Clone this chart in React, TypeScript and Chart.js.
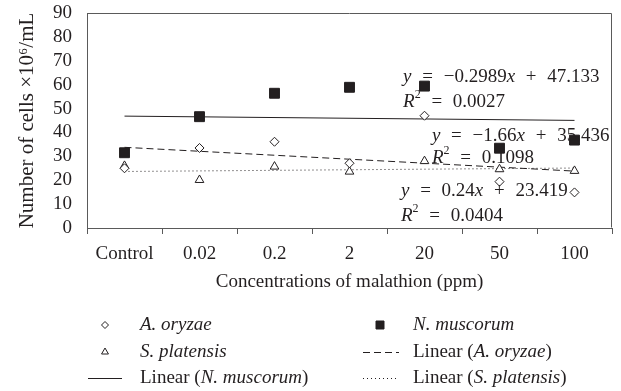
import React, { useEffect, useRef } from 'react';
import { Chart, registerables } from 'chart.js';

Chart.register(...registerables);

// ---- data ----
const categories = ['Control', '0.02', '0.2', '2', '20', '50', '100'];
const aOryzae = [25.0, 33.5, 36.1, 27.1, 47.0, 19.4, 14.9];
const nMuscorum = [31.5, 46.6, 56.4, 58.9, 59.4, 33.4, 36.8];
const sPlatensis = [26.0, 20.1, 25.7, 23.6, 28.0, 24.6, 23.9];
const yTicks = [0, 10, 20, 30, 40, 50, 60, 70, 80, 90];

// linear trend lines as printed on the chart (order: A. oryzae, N. muscorum, S. platensis)
const trendSlopes = [-1.66, -0.2989, 0.24];
const trendIntercepts = [35.436, 47.133, 23.419];
const trendR2 = [0.1098, 0.0027, 0.0404];

const FONT_FAMILY = '"Liberation Serif", "Times New Roman", serif';
const TEXT = '#231f20';
const AXIS = '#5a5a5a';
const MARK = '#231f20';

function trendData(k: number) {
  const n = categories.length;
  return categories.map((_, i) =>
    i === 0 || i === n - 1 ? trendSlopes[k] * (i + 1) + trendIntercepts[k] : null
  );
}

type Seg = { t: string; it?: boolean; sup?: boolean };

function drawRich(ctx: CanvasRenderingContext2D, x: number, y: number, segs: Seg[], wordSpacing = 0) {
  let cx = x;
  ctx.save();
  ctx.textBaseline = 'middle';
  ctx.textAlign = 'left';
  ctx.fillStyle = TEXT;
  for (const s of segs) {
    const size = s.sup ? 12 : 19;
    ctx.font = `${s.it ? 'italic ' : ''}${size}px ${FONT_FAMILY}`;
    // draw word by word so extra spacing works everywhere
    const parts = s.t.split(' ');
    parts.forEach((p, idx) => {
      if (p) {
        ctx.fillText(p, cx, s.sup ? y - 7 : y);
        cx += ctx.measureText(p).width;
      }
      if (idx < parts.length - 1) cx += ctx.measureText(' ').width + wordSpacing;
    });
  }
  ctx.restore();
}

function eqSegs(k: number): Seg[] {
  const m = trendSlopes[k];
  const sign = m < 0 ? '\u2212' : '';
  return [
    { t: 'y', it: true },
    { t: ` = ${sign}${String(Math.abs(m))}` },
    { t: 'x', it: true },
    { t: ` + ${String(trendIntercepts[k])}` },
  ];
}
function r2Segs(k: number): Seg[] {
  return [
    { t: 'R', it: true },
    { t: '2', sup: true },
    { t: ` = ${String(trendR2[k])}` },
  ];
}

// annotation placement: x as fraction of plot width, y in data units (line centres)
const annoPlacement = [
  { k: 1, fx: 0.602, yEq: 63.2, yR: 52.7 },
  { k: 0, fx: 0.657, yEq: 38.5, yR: 29.3 },
  { k: 2, fx: 0.598, yEq: 15.5, yR: 5.0 },
];

function drawMarker(ctx: CanvasRenderingContext2D, kind: string, x: number, y: number, r: number) {
  ctx.save();
  ctx.lineWidth = 1;
  ctx.strokeStyle = MARK;
  ctx.fillStyle = kind === 'square' ? MARK : '#ffffff';
  ctx.beginPath();
  if (kind === 'diamond') {
    ctx.moveTo(x - r, y); ctx.lineTo(x, y - r); ctx.lineTo(x + r, y); ctx.lineTo(x, y + r); ctx.closePath();
  } else if (kind === 'triangle') {
    const h = r * 1.5;
    ctx.moveTo(x, y - r); ctx.lineTo(x + r * 0.866, y + h - r); ctx.lineTo(x - r * 0.866, y + h - r); ctx.closePath();
  } else {
    ctx.rect(x - r, y - r, 2 * r, 2 * r);
  }
  ctx.fill();
  ctx.stroke();
  ctx.restore();
}

function drawSample(ctx: CanvasRenderingContext2D, dash: number[], x1: number, x2: number, y: number) {
  ctx.save();
  ctx.strokeStyle = MARK;
  ctx.lineWidth = 1;
  ctx.setLineDash(dash);
  ctx.beginPath();
  ctx.moveTo(x1, y + 0.5);
  ctx.lineTo(x2, y + 0.5);
  ctx.stroke();
  ctx.restore();
}

const extrasPlugin = {
  id: 'extras',
  afterDatasetsDraw(chart: any) {
    const { ctx, chartArea } = chart;
    // frame (top & right)
    ctx.save();
    ctx.strokeStyle = AXIS;
    ctx.lineWidth = 1;
    const l = Math.round(chartArea.left) + 0.5;
    const r = Math.round(chartArea.right) - 0.5;
    const t = Math.round(chartArea.top) + 0.5;
    const b = Math.round(chartArea.bottom) - 0.5;
    ctx.beginPath();
    ctx.moveTo(l, t); ctx.lineTo(r, t); ctx.lineTo(r, b);
    ctx.stroke();
    ctx.restore();

    // regression annotations
    const ys = chart.scales.y;
    const w = chartArea.right - chartArea.left;
    for (const a of annoPlacement) {
      const x = chartArea.left + a.fx * w;
      drawRich(ctx, x, ys.getPixelForValue(a.yEq), eqSegs(a.k), 6);
      drawRich(ctx, x, ys.getPixelForValue(a.yR), r2Segs(a.k), 6);
    }
  },
  afterDraw(chart: any) {
    const { ctx } = chart;
    const rows = [325, 352, 378];
    const c1m = 105, c1t = 140, c2m = 380, c2t = 413;
    ctx.save();
    drawMarker(ctx, 'diamond', c1m, rows[0], 3.5);
    drawRich(ctx, c1t, rows[0], [{ t: 'A. oryzae', it: true }]);
    drawMarker(ctx, 'square', c2m, rows[0], 4);
    drawRich(ctx, c2t, rows[0], [{ t: 'N. muscorum', it: true }]);
    drawMarker(ctx, 'triangle', c1m, rows[1], 4);
    drawRich(ctx, c1t, rows[1], [{ t: 'S. platensis', it: true }]);
    drawSample(ctx, [7, 4], 363, 399, rows[1]);
    drawRich(ctx, c2t, rows[1], [{ t: 'Linear (' }, { t: 'A. oryzae', it: true }, { t: ')' }]);
    drawSample(ctx, [], 88, 122, rows[2]);
    drawRich(ctx, c1t, rows[2], [{ t: 'Linear (' }, { t: 'N. muscorum', it: true }, { t: ')' }]);
    drawSample(ctx, [1, 3], 363, 399, rows[2]);
    drawRich(ctx, c2t, rows[2], [{ t: 'Linear (' }, { t: 'S. platensis', it: true }, { t: ')' }]);
    ctx.restore();
  },
};

export default function App() {
  const ref = useRef<HTMLCanvasElement | null>(null);
  useEffect(() => {
    if (!ref.current) return;
    const font = { family: FONT_FAMILY, size: 19 };
    const pointBase = { showLine: false, borderWidth: 1, borderColor: MARK, pointBorderColor: MARK };
    const chart = new Chart(ref.current, {
      type: 'line',
      data: {
        labels: categories,
        datasets: [
          { ...pointBase, label: 'A. oryzae', data: aOryzae, pointStyle: 'rectRot', pointRadius: 4.5, pointBackgroundColor: '#ffffff', backgroundColor: '#ffffff' },
          { ...pointBase, label: 'N. muscorum', data: nMuscorum, pointStyle: 'rect', pointRadius: 7, pointBackgroundColor: MARK, backgroundColor: MARK },
          { ...pointBase, label: 'S. platensis', data: sPlatensis, pointStyle: 'triangle', pointRadius: 5, pointBackgroundColor: '#ffffff', backgroundColor: '#ffffff' },
          { label: 'Linear (A. oryzae)', data: trendData(0), spanGaps: true, borderColor: MARK, borderWidth: 1, borderDash: [7, 4], pointRadius: 0 },
          { label: 'Linear (N. muscorum)', data: trendData(1), spanGaps: true, borderColor: MARK, borderWidth: 1, pointRadius: 0 },
          { label: 'Linear (S. platensis)', data: trendData(2), spanGaps: true, borderColor: MARK, borderWidth: 1, borderDash: [1, 3], pointRadius: 0 },
        ] as any,
      },
      options: {
        animation: false,
        responsive: false,
        maintainAspectRatio: false,
        layout: { padding: { left: 0, top: 13, right: 9, bottom: 96 } },
        plugins: { legend: { display: false }, tooltip: { enabled: false } },
        scales: {
          x: {
            type: 'category',
            offset: true,
            afterFit: (s: any) => { s.height = 67; s.paddingLeft = 0; s.paddingRight = 0; },
            grid: { offset: true, drawOnChartArea: false, drawTicks: true, tickLength: 6, color: AXIS },
            border: { color: AXIS, width: 1 },
            ticks: { padding: 9, font, color: TEXT, maxRotation: 0, autoSkip: false },
            title: { display: true, text: 'Concentrations of malathion (ppm)', font, color: TEXT, padding: { top: 7, bottom: 2 } },
          },
          y: {
            min: 0,
            max: 90,
            afterBuildTicks: (s: any) => { s.ticks = yTicks.map((v) => ({ value: v })); },
            afterFit: (s: any) => { s.width = 87; s.paddingTop = 0; s.paddingBottom = 0; },
            grid: { display: false, drawTicks: false },
            border: { color: AXIS, width: 1 },
            ticks: { padding: 15, font, color: TEXT, autoSkip: false },
            title: { display: true, text: 'Number of cells \u00d710\u2076/mL', font: { family: FONT_FAMILY, size: 21 }, color: TEXT, padding: { top: 15, bottom: 15 } },
          },
        },
      } as any,
      plugins: [extrasPlugin],
    });
    return () => chart.destroy();
  }, []);
  return (
    <div style={{ position: 'absolute', left: 0, top: 0, width: 621, height: 391, background: '#fff' }}>
      <canvas ref={ref} width={621} height={391} style={{ display: 'block' }} />
    </div>
  );
}
